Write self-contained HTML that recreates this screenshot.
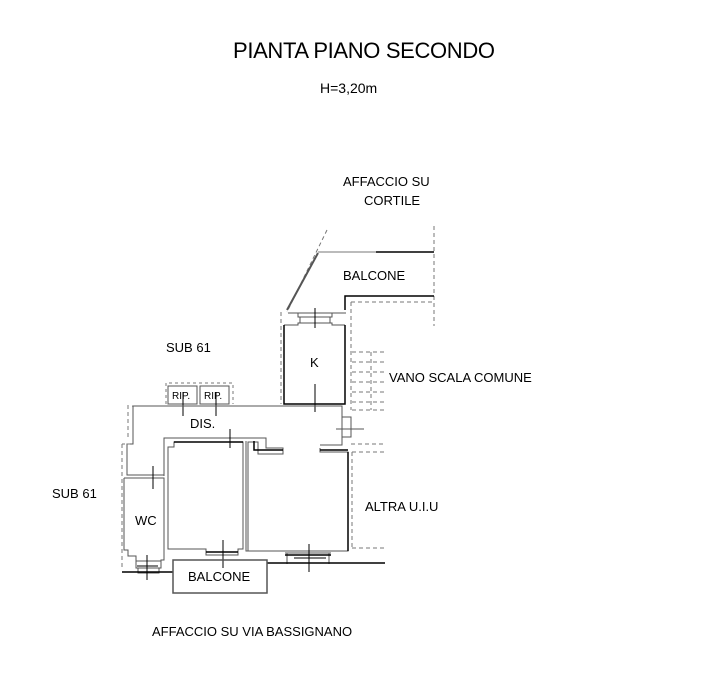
<!DOCTYPE html>
<html><head><meta charset="utf-8"><style>
html,body{margin:0;padding:0;background:#fff;width:721px;height:682px;overflow:hidden}
text{font-family:"Liberation Sans",sans-serif;fill:#000}
</style></head><body>
<svg width="721" height="682" viewBox="0 0 721 682" xmlns="http://www.w3.org/2000/svg">
<g fill="none" stroke-width="1">
<!-- top balcone -->
<path d="M318 252H376" stroke="#777"/>
<path d="M376 252H434" stroke="#000" stroke-width="1.5"/>
<path d="M434 226V326" stroke="#777" stroke-dasharray="4,3"/>
<path d="M327 230L287 312" stroke="#777" stroke-dasharray="4,3"/>
<path d="M318 253L287 310" stroke="#555" stroke-width="2"/>
<path d="M345 310V296H434" stroke="#000" stroke-width="1.5"/>
<path d="M351 302H434" stroke="#777" stroke-dasharray="4,3"/>
<path d="M351 302V410" stroke="#777" stroke-dasharray="4,3"/>
<!-- K -->
<path d="M288 313H346" stroke="#555"/>
<path d="M298 313V317H332V313 M300 317V323 M330 317V323 M284 325H298V323H332V325H345" stroke="#555"/>
<path d="M284 325V404H345V325" stroke="#000" stroke-width="1.5"/>
<path d="M281 312V404" stroke="#777" stroke-dasharray="4,3"/>
<path d="M315 308V328 M315 384V412" stroke="#000"/>
<!-- stairs -->
<g stroke="#777" stroke-dasharray="4,3">
<path d="M352 352H385 M352 362H385 M352 372H385 M352 382H385 M352 392H385 M352 402H385 M352 410H385 M371 352V410"/>
</g>
<!-- RIP -->
<path d="M166 404V383H233V404" stroke="#777" stroke-dasharray="3,3"/>
<rect x="168" y="386" width="29" height="18" stroke="#555"/>
<rect x="200" y="386" width="29" height="18" stroke="#555"/>
<path d="M183 392V416 M216 392V416" stroke="#000"/>
<!-- corridor -->
<path d="M132 406H280" stroke="#777" stroke-dasharray="4,3"/>
<path d="M133 406H342V417H351V437H342V445H320" stroke="#555"/>
<path d="M342 417V437" stroke="#555"/>
<path d="M336 429H352 M352 429H364" stroke="#555"/>
<path d="M128 405V440" stroke="#777" stroke-dasharray="4,3"/>
<path d="M133 406V444H127V475H164" stroke="#555"/>
<path d="M122 444V570" stroke="#777" stroke-dasharray="4,3"/>
<path d="M122 444H132" stroke="#777" stroke-dasharray="3,2"/>
<!-- WC -->
<path d="M124 478H164V560H161V561 M124 478V550H128V556H136V561" stroke="#555"/>
<path d="M136 561H161V568H136Z M138 568V573H159V568" stroke="#555"/>
<path d="M153 466V489" stroke="#000"/>
<path d="M147 555V580 M137 566H158" stroke="#000"/>
<!-- room 1 -->
<path d="M164 476V438H266V448H283V454H258V442H248V551" stroke="#555"/>
<path d="M174 442H243V549H238V555H206V549H168V447H174Z" stroke="#555"/>
<path d="M174 442H243" stroke="#000" stroke-width="1.5"/>
<path d="M206 552H238" stroke="#000" stroke-width="1.5"/>
<path d="M230 429V448 M223 540V568" stroke="#000"/>
<!-- room 2 -->
<path d="M246 441V551H348V452H320V448" stroke="#555"/>
<path d="M254 441V450H283 M320 450H348" stroke="#000" stroke-width="1.5"/>
<path d="M348 452V551" stroke="#000" stroke-width="1.5"/>
<path d="M285 553H331 M287 553V564 M329 553V564" stroke="#555"/>
<path d="M285 555H331" stroke="#000" stroke-width="1.5"/>
<path d="M309 544V572 M294 558H326" stroke="#000"/>
<!-- right dashed uiu -->
<path d="M352 452H385 M352 548H385 M352 452V548" stroke="#777" stroke-dasharray="4,3"/>
<path d="M351 444H385" stroke="#777" stroke-dasharray="4,3"/>
<!-- bottom lines -->
<path d="M267 563H385" stroke="#000" stroke-width="1.5"/>
<path d="M122 572H173" stroke="#000" stroke-width="1.5"/>
<rect x="173" y="560" width="94" height="33" stroke="#555" stroke-width="1.5"/>
</g>
<text x="233" y="58" font-size="22" textLength="262">PIANTA PIANO SECONDO</text>
<text x="320" y="93" font-size="14">H=3,20m</text>
<text x="343" y="186" font-size="13">AFFACCIO SU</text>
<text x="364" y="205" font-size="13">CORTILE</text>
<text x="343" y="280" font-size="13">BALCONE</text>
<text x="166" y="352" font-size="13">SUB 61</text>
<text x="310" y="367" font-size="13">K</text>
<text x="389" y="382" font-size="13">VANO SCALA COMUNE</text>
<text x="172" y="399" font-size="10">RIP.</text>
<text x="204" y="399" font-size="10">RIP.</text>
<text x="190" y="428" font-size="13">DIS.</text>
<text x="52" y="498" font-size="13">SUB 61</text>
<text x="135" y="525" font-size="13">WC</text>
<text x="365" y="511" font-size="13">ALTRA U.I.U</text>
<text x="188" y="581" font-size="13">BALCONE</text>
<text x="152" y="636" font-size="13">AFFACCIO SU VIA BASSIGNANO</text>
</svg>
</body></html>
